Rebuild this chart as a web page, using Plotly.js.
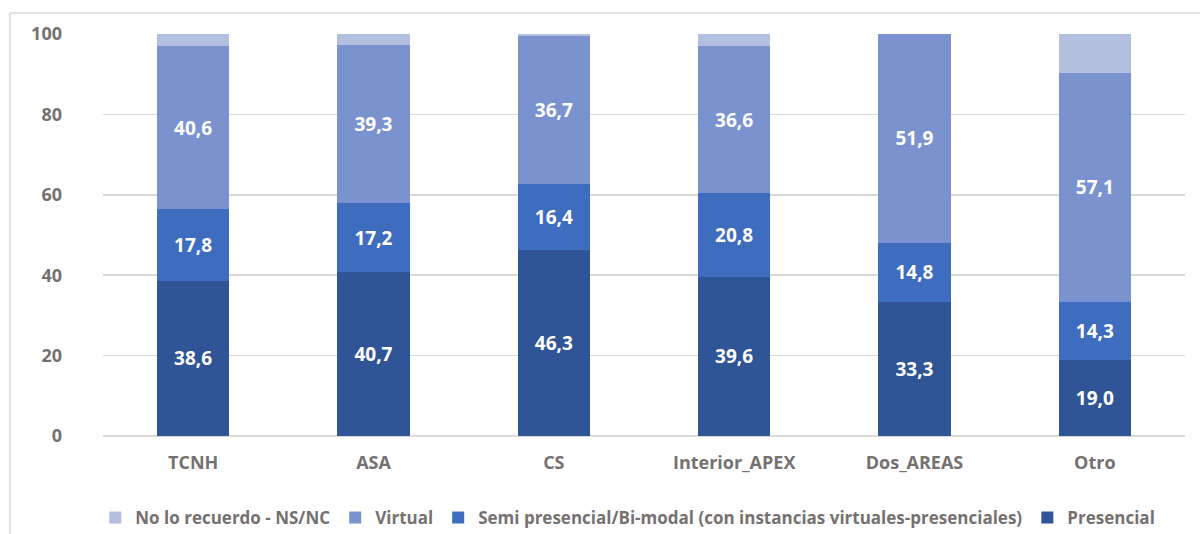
<!DOCTYPE html>
<html>
<head>
<meta charset="utf-8">
<script src="https://cdn.plot.ly/plotly-3.0.1.min.js"></script>
<style>html,body{margin:0;padding:0;background:#fff;}#chart{width:1200px;height:534px;}</style>
</head>
<body>
<div id="chart"></div>
<script>
const categories = ["TCNH", "ASA", "CS", "Interior_APEX", "Dos_AREAS", "Otro"];
const presencial = [38.6, 40.7, 46.3, 39.6, 33.3, 19.0];
const semi = [17.8, 17.2, 16.4, 20.8, 14.8, 14.3];
const virtual = [40.6, 39.3, 36.7, 36.6, 51.9, 57.1];
const nsnc = [3.0, 2.8, 0.6, 3.0, 0.0, 9.6];
const seriesNames = ["Presencial", "Semi presencial/Bi-modal (con instancias virtuales-presenciales)", "Virtual", "No lo recuerdo - NS/NC"];
const yTicks = [0, 20, 40, 60, 80, 100];

const colors = ["#2f5597", "#3e6cbf", "#7a93cf", "#b3bfdf"];
const fmt = v => v.toFixed(1).replace(".", ",");
const labelFont = {family: "Open Sans, sans-serif", size: 19, color: "#ffffff", weight: 700};

function mk(vals, i, showText) {
  return {
    type: "bar", x: categories, y: vals, name: seriesNames[i],
    marker: {color: colors[i]},
    text: showText ? vals.map(fmt) : undefined,
    texttemplate: showText ? "<b>%{text}</b>" : undefined,
    textposition: showText ? "inside" : "none",
    insidetextanchor: "middle",
    textangle: 0,
    insidetextfont: labelFont,
    hoverinfo: "none"
  };
}

const data = [mk(presencial, 0, true), mk(semi, 1, true), mk(virtual, 2, true), mk(nsnc, 3, false)];

const layout = {
  width: 1200, height: 534,
  margin: {l: 103, r: 15, t: 34, b: 98, autoexpand: false},
  barmode: "stack", bargap: 0.6,
  paper_bgcolor: "#fff", plot_bgcolor: "#fff",
  showlegend: true,
  legend: {orientation: "h", x: 0.485, xanchor: "center", y: 0.03, yref: "container", yanchor: "middle",
    traceorder: "reversed",
    font: {family: "Open Sans, sans-serif", size: 17, color: "#767171", weight: 700},
    itemwidth: 30, tracegroupgap: 0},
  xaxis: {showgrid: false, showline: false, zeroline: false, ticks: "", automargin: false,
    tickfont: {family: "Open Sans, sans-serif", size: 18, color: "#767171", weight: 700},
    ticklabelstandoff: 14},
  yaxis: {range: [0, 100], tickvals: yTicks, ticktext: yTicks.map(String), automargin: false,
    showgrid: true, gridcolor: "#d9d9d9", gridwidth: 1.5, zeroline: true, zerolinecolor: "#d9d9d9", zerolinewidth: 1.5,
    showline: false, ticks: "",
    tickfont: {family: "Open Sans, sans-serif", size: 18, color: "#767171", weight: 700},
    ticklabelstandoff: 40},
  shapes: [
    {type: "line", xref: "paper", yref: "paper", x0: -0.086, x1: 1.02, y0: 1.052, y1: 1.052, line: {color: "#d9d9d9", width: 1.5}},
    {type: "line", xref: "paper", yref: "paper", x0: -0.086, x1: -0.086, y0: 1.052, y1: -0.25, line: {color: "#d9d9d9", width: 1.5}}
  ]
};

Plotly.newPlot("chart", data, layout, {staticPlot: true, displayModeBar: false});
</script>
</body>
</html>
